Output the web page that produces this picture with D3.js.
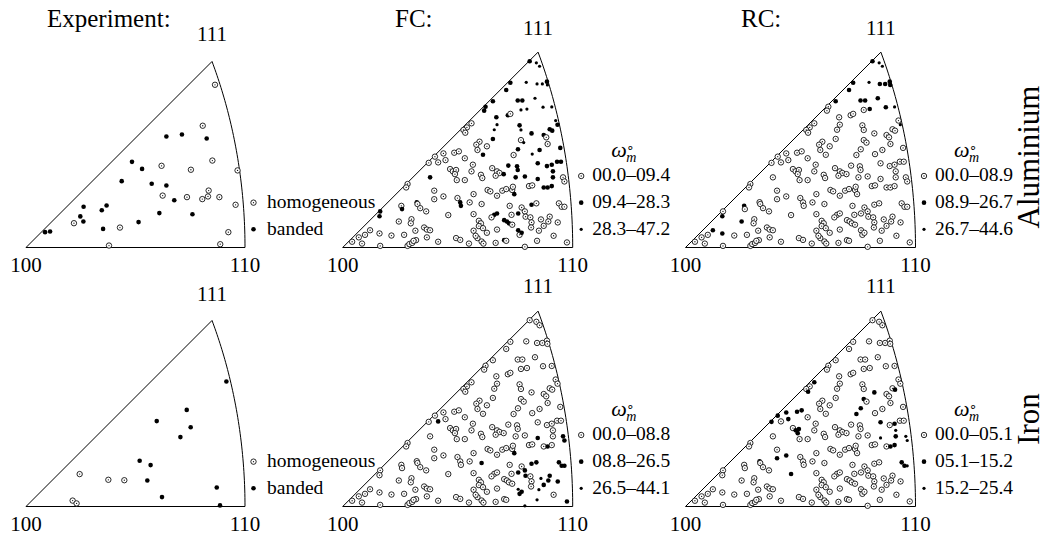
<!DOCTYPE html>
<html>
<head>
<meta charset="utf-8">
<script src="https://cdn.jsdelivr.net/npm/d3@7"></script>
<style>
  body { margin: 0; background: #fff; }
  text { font-family: "Liberation Serif", "Times New Roman", serif; fill: #000; }
</style>
</head>
<body>
<svg id="fig" width="1048" height="540"></svg>
<script>
// grain orientations in the unit triangle (100 -> 110 = 1), shared by all simulations
let grains = [
  [0.813,0.810],[0.842,0.803],[0.856,0.788],[0.729,0.716],[0.711,0.685],[0.798,0.718],[0.845,0.711],[0.868,0.711],[0.888,0.721],[0.890,0.707],
  [0.653,0.636],[0.621,0.612],[0.615,0.595],[0.761,0.639],[0.781,0.639],[0.836,0.649],[0.775,0.598],[0.801,0.602],[0.871,0.610],[0.909,0.611],
  [0.718,0.575],[0.729,0.581],[0.668,0.566],[0.671,0.534],[0.659,0.512],[0.560,0.540],[0.540,0.522],[0.525,0.511],[0.533,0.499],[0.769,0.531],
  [0.775,0.511],[0.926,0.552],[0.934,0.534],[0.900,0.514],[0.911,0.508],[0.821,0.496],[0.874,0.489],[0.885,0.479],[0.891,0.450],[0.946,0.433],
  [0.775,0.467],[0.787,0.456],[0.653,0.472],[0.595,0.460],[0.581,0.447],[0.627,0.440],[0.586,0.424],[0.610,0.403],[0.762,0.427],[0.743,0.402],
  [0.856,0.424],[0.824,0.406],[0.374,0.368],[0.401,0.395],[0.438,0.409],[0.447,0.380],[0.415,0.370],[0.485,0.412],[0.505,0.418],[0.531,0.388],
  [0.380,0.305],[0.467,0.341],[0.479,0.331],[0.493,0.337],[0.488,0.319],[0.496,0.293],[0.531,0.293],[0.566,0.360],[0.560,0.331],[0.601,0.316],
  [0.607,0.302],[0.650,0.345],[0.671,0.331],[0.682,0.324],[0.700,0.319],[0.665,0.312],[0.720,0.356],[0.758,0.353],[0.761,0.337],[0.752,0.305],
  [0.792,0.309],[0.848,0.366],[0.888,0.354],[0.909,0.360],[0.932,0.373],[0.949,0.373],[0.914,0.331],[0.914,0.305],[0.848,0.298],[0.958,0.305],
  [0.964,0.287],[0.810,0.267],[0.824,0.270],[0.874,0.261],[0.891,0.261],[0.909,0.267],[0.282,0.276],[0.276,0.261],[0.398,0.247],[0.398,0.210],
  [0.438,0.222],[0.499,0.215],[0.511,0.196],[0.514,0.181],[0.569,0.232],[0.552,0.196],[0.604,0.189],[0.630,0.250],[0.642,0.244],[0.694,0.247],
  [0.711,0.254],[0.671,0.225],[0.737,0.250],[0.740,0.264],[0.746,0.232],[0.726,0.181],[0.778,0.174],[0.821,0.186],[0.842,0.192],[0.940,0.192],
  [0.952,0.177],[0.964,0.177],[0.322,0.197],[0.325,0.189],[0.337,0.171],[0.363,0.157],[0.255,0.181],[0.258,0.167],[0.163,0.157],[0.160,0.136],
  [0.459,0.141],[0.569,0.145],[0.763,0.148],[0.792,0.157],[0.795,0.134],[0.734,0.142],[0.659,0.142],[0.671,0.148],[0.647,0.131],[0.244,0.113],
  [0.299,0.123],[0.296,0.105],[0.316,0.073],[0.354,0.087],[0.366,0.078],[0.380,0.075],[0.366,0.044],[0.319,0.032],[0.267,0.055],[0.212,0.052],
  [0.160,0.061],[0.119,0.075],[0.097,0.055],[0.070,0.044],[0.041,0.025],[0.084,0.017],[0.163,0.007],[0.282,0.007],[0.290,0.015],[0.302,0.020],
  [0.308,0.029],[0.415,0.025],[0.493,0.041],[0.511,0.033],[0.549,0.017],[0.586,0.041],[0.604,0.026],[0.612,0.017],[0.665,0.020],[0.702,0.032],
  [0.711,0.029],[0.569,0.073],[0.578,0.051],[0.592,0.116],[0.601,0.105],[0.592,0.093],[0.610,0.084],[0.627,0.064],[0.671,0.078],[0.702,0.119],
  [0.714,0.113],[0.723,0.105],[0.737,0.099],[0.763,0.075],[0.769,0.055],[0.778,0.064],[0.792,0.003],[0.816,0.131],[0.821,0.109],[0.853,0.073],
  [0.862,0.122],[0.900,0.134],[0.894,0.113],[0.874,0.094],[0.935,0.109],[0.845,0.029],[0.917,0.051],[0.975,0.022],[0.819,0.087]
]

// omega_m class of each grain (grain numbers, 1-based); all others are in the lowest class
let fcAlMid  = [1,4,5,9,11,12,13,14,15,21,23,30,33,34,35,36,37,40,43,48,49,51,61,75,77,78,79,80,81,82,83,84,85,86,87,88,89,94,95,96,103,104,115,118,123,128,129,130,133,137,138,170,180,181,182,184,186]
let fcAlHigh = [2,3,6,7,8,10,16,17,18,19,20,24,25,31,32,42,52]
let rcAlMid  = [1,4,5,7,8,9,10,11,14,15,16,18,19,127,130,140,151,152]
let rcAlHigh = [2,3,6,20,33]
let fcFeMid  = [57,89,90,91,95,107,115,118,119,120,121,122,133,134,135,185,186,192,193,194,195,198]
let fcFeHigh = [184,187,190,191,196]
let rcFeMid  = [26,29,35,36,41,49,50,53,54,55,56,58,59,63,64,65,82,84,88,95,96,100,101,120,121,123,131]
let rcFeHigh = [87,89,90,91,122]

// experiment: homogeneous / banded grains
let expAlHomog = [[0.863,0.743],[0.807,0.556],[0.851,0.397],[0.619,0.373],[0.753,0.355],[0.966,0.352],[0.624,0.237],[0.735,0.230],[0.805,0.221],
  [0.831,0.233],[0.834,0.260],[0.883,0.230],[0.957,0.195],[0.219,0.111],[0.429,0.091],[0.379,0.009],[0.924,0.070],[0.887,0.015]]
let expAlBanded = [[0.641,0.507],[0.712,0.516],[0.825,0.498],[0.484,0.391],[0.530,0.359],[0.437,0.303],[0.574,0.291],[0.641,0.283],[0.677,0.216],
  [0.263,0.186],[0.346,0.170],[0.368,0.192],[0.248,0.142],[0.262,0.119],[0.609,0.157],[0.760,0.152],[0.514,0.116],[0.352,0.085],[0.087,0.070],[0.110,0.073]]
let expFeHomog = [[0.245,0.148],[0.376,0.122],[0.449,0.120],[0.213,0.027],[0.231,0.014]]
let expFeBanded = [[0.915,0.571],[0.734,0.441],[0.597,0.390],[0.752,0.362],[0.705,0.317],[0.519,0.209],[0.569,0.189],[0.554,0.119],[0.621,0.043],
  [0.871,0.087],[0.886,0.005]]

let expLabels = ["homogeneous", "banded"]
let fcAlRanges = ["00.0–09.4", "09.4–28.3", "28.3–47.2"]
let rcAlRanges = ["00.0–08.9", "08.9–26.7", "26.7–44.6"]
let fcFeRanges = ["00.0–08.8", "08.8–26.5", "26.5–44.1"]
let rcFeRanges = ["00.0–05.1", "05.1–15.2", "15.2–25.4"]

//======================= EQUAL-AREA IPF BOUNDARY ===============================
function project(a, b, c) {
  let k = Math.sqrt(2 / (1 + c))
  return [a * k, b * k]
}
let X110 = project(Math.SQRT1_2, 0, Math.SQRT1_2)[0]
let boundary = [[0, 0]]
for (let t = 0; t <= 1.0001; t += 0.02) {
  let n = Math.sqrt(2 + t * t)
  let p = project(1 / n, t / n, 1 / n)
  boundary.push([p[0] / X110, p[1] / X110])
}
boundary.push([0, 0])
let apex = boundary[boundary.length - 2]

let svg = d3.select("#fig")

function marker(g, cls, x, y) {
  if (cls === 0) {
    g.append("circle").attr("cx", x).attr("cy", y).attr("r", 2.7)
      .attr("fill", "#fff").attr("stroke", "#111").attr("stroke-width", 0.9)
    g.append("circle").attr("cx", x).attr("cy", y).attr("r", 0.65).attr("fill", "#111")
  } else if (cls === 1) {
    g.append("circle").attr("cx", x).attr("cy", y).attr("r", 2.3).attr("fill", "#000")
  } else {
    g.append("circle").attr("cx", x).attr("cy", y).attr("r", 1.6).attr("fill", "#000")
  }
}

function panel(opt) {
  let x = d3.scaleLinear().domain([0, 1]).range([opt.x0, opt.x0 + opt.w])
  let y = d3.scaleLinear().domain([0, 1]).range([opt.base, opt.base - opt.w])
  let g = svg.append("g")

  g.append("path")
    .attr("d", d3.line().x(d => x(d[0])).y(d => y(d[1]))(boundary))
    .attr("fill", "none").attr("stroke", "#000").attr("stroke-width", 1)

  opt.points.forEach(p => marker(g, p.cls, x(p.u), y(p.v)))

  g.append("text").attr("x", x(0)).attr("y", opt.base + 24).attr("text-anchor", "middle")
    .style("font-size", "21px").text("100")
  g.append("text").attr("x", x(1)).attr("y", opt.base + 24).attr("text-anchor", "middle")
    .style("font-size", "21px").text("110")
  g.append("text").attr("x", x(apex[0])).attr("y", y(apex[1]) - opt.gap111).attr("text-anchor", "middle")
    .style("font-size", "21px").text("111")

  // legend
  let lx = x(1) + 8.5
  let rows = opt.labels.length
  opt.labels.forEach((lab, i) => {
    let ly = opt.base - 18.2 - (rows - 1 - i) * 26.65
    marker(g, opt.legendCls[i], lx, ly)
    g.append("text").attr("x", lx + (rows === 2 ? 13.5 : 11)).attr("y", ly + 5.3)
      .style("font-size", "19.5px").text(lab)
  })
  if (rows === 3) {
    let om = g.append("text").attr("x", lx + 30).attr("y", opt.base - 91)
    om.append("tspan").style("font-size", "22px").style("font-style", "italic").text("ω")
    om.append("tspan").attr("x", lx + 45).attr("dy", -5)
      .style("font-family", "DejaVu Sans").style("font-size", "13px").text("∘")
    om.append("tspan").attr("x", lx + 45).attr("dy", 10)
      .style("font-size", "14px").style("font-style", "italic").text("m")
  }
}

function simPoints(mid, high) {
  return grains.map((d, i) => {
    let no = i + 1
    return {u: d[0], v: d[1], cls: high.includes(no) ? 2 : (mid.includes(no) ? 1 : 0)}
  })
}
function expPoints(homog, banded) {
  return homog.map(d => ({u: d[0], v: d[1], cls: 0}))
    .concat(banded.map(d => ({u: d[0], v: d[1], cls: 1})))
}

let alBase = 247.5, feBase = 506.5

panel({x0: 26, base: alBase, w: 219, gap111: 20, points: expPoints(expAlHomog, expAlBanded), labels: expLabels, legendCls: [0, 1]})
panel({x0: 342.7, base: alBase, w: 230, gap111: 17.5, points: simPoints(fcAlMid, fcAlHigh), labels: fcAlRanges, legendCls: [0, 1, 2]})
panel({x0: 685.5, base: alBase, w: 230, gap111: 17.5, points: simPoints(rcAlMid, rcAlHigh), labels: rcAlRanges, legendCls: [0, 1, 2]})
panel({x0: 26, base: feBase, w: 219, gap111: 19.5, points: expPoints(expFeHomog, expFeBanded), labels: expLabels, legendCls: [0, 1]})
panel({x0: 342.7, base: feBase, w: 230, gap111: 18.5, points: simPoints(fcFeMid, fcFeHigh), labels: fcFeRanges, legendCls: [0, 1, 2]})
panel({x0: 685.5, base: feBase, w: 230, gap111: 18.5, points: simPoints(rcFeMid, rcFeHigh), labels: rcFeRanges, legendCls: [0, 1, 2]})

//========================= TITLES ============================================
svg.append("text").attr("x", 47).attr("y", 27).style("font-size", "25px").text("Experiment:")
svg.append("text").attr("x", 395).attr("y", 27).style("font-size", "25px").text("FC:")
svg.append("text").attr("x", 741).attr("y", 27).style("font-size", "25px").text("RC:")
svg.append("text").attr("transform", "translate(1039,157) rotate(-90)").attr("text-anchor", "middle")
  .style("font-size", "31px").text("Aluminium")
svg.append("text").attr("transform", "translate(1039,419) rotate(-90)").attr("text-anchor", "middle")
  .style("font-size", "31px").text("Iron")
</script>
</body>
</html>
